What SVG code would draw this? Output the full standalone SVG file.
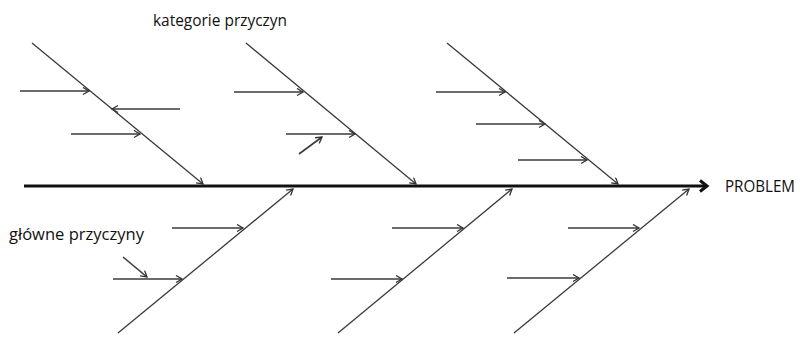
<svg xmlns="http://www.w3.org/2000/svg" width="800" height="338" viewBox="0 0 800 338">
  <defs>
    <marker id="tip" markerUnits="userSpaceOnUse" markerWidth="10" markerHeight="10" refX="7" refY="4" orient="auto">
      <path d="M1,0.5 L7,4 L1,7.5" fill="none" stroke="#333" stroke-width="1.3"/>
    </marker>
    <marker id="head" markerUnits="userSpaceOnUse" markerWidth="12" markerHeight="14" refX="9" refY="7" orient="auto">
      <path d="M2,1.5 L9,7 L2,12.5" fill="none" stroke="#111" stroke-width="3"/>
    </marker>
  </defs>
  <style>
    .spine { stroke: #111; stroke-width: 3; fill: none; }
    .bone { stroke: #3a3a3a; stroke-width: 1.3; fill: none; marker-end: url(#tip); }
    .rib { stroke: #3a3a3a; stroke-width: 1.6; fill: none; marker-end: url(#tip); }
    .label { font-family: "Open Sans", "Liberation Sans", sans-serif; font-size: 17px; fill: #111; }
    .problem { font-size: 16px; }
  </style>
  <rect width="800" height="338" fill="#fff"/>

  <g id="connectors">
    <!-- main spine -->
    <line class="spine" x1="24" y1="186" x2="707" y2="186" marker-end="url(#head)"/>

    <!-- upper bones -->
    <line class="bone" x1="32" y1="43" x2="203" y2="184"/>
    <line class="bone" x1="246" y1="43" x2="416" y2="184"/>
    <line class="bone" x1="447" y1="43" x2="618" y2="184"/>

    <!-- lower bones -->
    <line class="bone" x1="118" y1="333" x2="293" y2="189"/>
    <line class="bone" x1="338" y1="333" x2="512" y2="189"/>
    <line class="bone" x1="514" y1="333" x2="689" y2="189"/>

    <!-- ribs on upper bone 1 -->
    <line class="rib" x1="20" y1="91" x2="89" y2="91"/>
    <line class="rib" x1="180" y1="109" x2="112" y2="109"/>
    <line class="rib" x1="71" y1="134" x2="140" y2="134"/>

    <!-- ribs on upper bone 2 -->
    <line class="rib" x1="234" y1="92" x2="303" y2="92"/>
    <line class="rib" x1="286" y1="134" x2="355" y2="134"/>
    <line class="rib" x1="299" y1="154" x2="322" y2="137"/>

    <!-- ribs on upper bone 3 -->
    <line class="rib" x1="436" y1="92" x2="505" y2="92"/>
    <line class="rib" x1="476" y1="124" x2="545" y2="124"/>
    <line class="rib" x1="518" y1="160" x2="587" y2="160"/>

    <!-- ribs on lower bone 1 -->
    <line class="rib" x1="172" y1="228" x2="243" y2="228"/>
    <line class="rib" x1="113" y1="279" x2="182" y2="279"/>
    <line class="rib" x1="123" y1="257" x2="147" y2="277"/>

    <!-- ribs on lower bone 2 -->
    <line class="rib" x1="392" y1="228" x2="463" y2="228"/>
    <line class="rib" x1="331" y1="279" x2="402" y2="279"/>

    <!-- ribs on lower bone 3 -->
    <line class="rib" x1="568" y1="228" x2="639" y2="228"/>
    <line class="rib" x1="507" y1="278" x2="579" y2="278"/>
  </g>

  <g id="categories">
    <text class="label" x="153" y="26" textLength="134" lengthAdjust="spacingAndGlyphs">kategorie przyczyn</text>
  </g>
  <g id="causes">
    <text class="label" x="9" y="240" textLength="135" lengthAdjust="spacingAndGlyphs">główne przyczyny</text>
  </g>
  <g id="problem">
    <text class="label problem" x="725" y="192" textLength="70" lengthAdjust="spacingAndGlyphs">PROBLEM</text>
  </g>
</svg>
